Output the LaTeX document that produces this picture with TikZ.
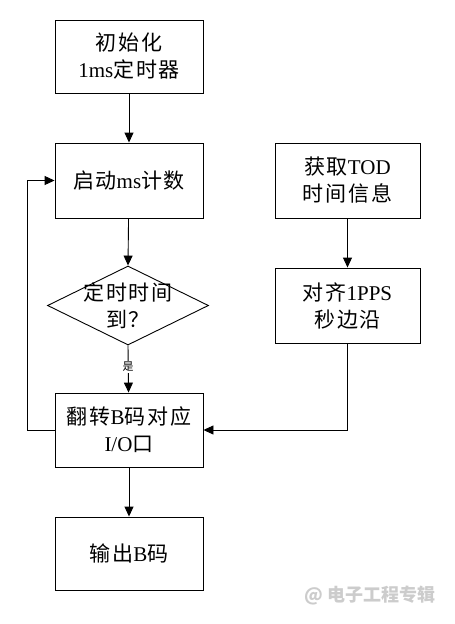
\documentclass[tikz,border=0pt]{standalone}
\usepackage{fontspec}
\setmainfont{Liberation Serif}
\newfontfamily\cjk[LetterSpace=8]{Noto Sans CJK SC}
\newfontfamily\cjkplain{Noto Sans CJK SC}
\usetikzlibrary{arrows.meta,shapes.geometric}
\tikzset{
  box/.style={draw,line width=0.9pt,minimum width=148pt,minimum height=75pt,inner sep=0pt,align=center,font=\fontsize{21}{27}\selectfont},
  rbox/.style={box,minimum width=145pt},
  arr/.style={line width=0.9pt,-{Triangle[width=9pt,length=10pt]}},
  ln/.style={line width=0.9pt},
  lbl/.style={font=\fontsize{21}{27}\selectfont,align=center,inner sep=0pt}
}
\begin{document}
\begin{tikzpicture}[x=1pt,y=-1pt]
\useasboundingbox[fill=white] (0,0) rectangle (455,624);
\node[box,minimum height=73pt] (init) at (129,56.5) {{\cjk 初始化}\\1ms{\cjk 定时器}};
\node[box] (start) at (129,180.5) {{\cjk 启动}ms{\cjk 计数}};
\node[draw,ln,diamond,minimum width=161pt,minimum height=79pt,inner sep=0pt] (dec) at (128,305.5) {};
\node[lbl] (dectext) at (dec) {{\cjk 定时时间}\\{\cjk 到？}};
\node[box,minimum height=74pt] (flip) at (129,430) {{\cjk 翻转}B{\cjk 码对应}\\I/O{\cjk 口}};
\node[box,minimum height=73pt] (out) at (129,553.5) {{\cjk 输出}B{\cjk 码}};
\node[rbox] (tod) at (347.5,180.5) {{\cjk 获取}TOD\\{\cjk 时间信息}};
\node[rbox] (pps) at (347.5,305.5) {{\cjk 对齐}1PPS\\{\cjk 秒边沿}};
\coordinate (lb) at (27,430);
\coordinate (lt) at (27,180.5);
\draw[arr] (init) -- (start);
\draw[arr] (start) -- (dec.north);
\draw[arr] (dec.south) -- (flip);
\node[fill=white,inner sep=1pt,font=\cjkplain\fontsize{11}{12}\selectfont] (yes) at (128,367) {是};
\draw[arr] (flip.west) -- (lb) -- (lt) -- (start.west);
\draw[arr] (tod) -- (pps);
\draw[arr] (pps.south) |- (flip.east);
\draw[arr] (flip) -- (out);
\node[text=black!20,font=\cjkplain\bfseries\fontsize{18}{20}\selectfont,anchor=center] (wm) at (370,596) {@ 电子工程专辑};
\end{tikzpicture}
\end{document}
